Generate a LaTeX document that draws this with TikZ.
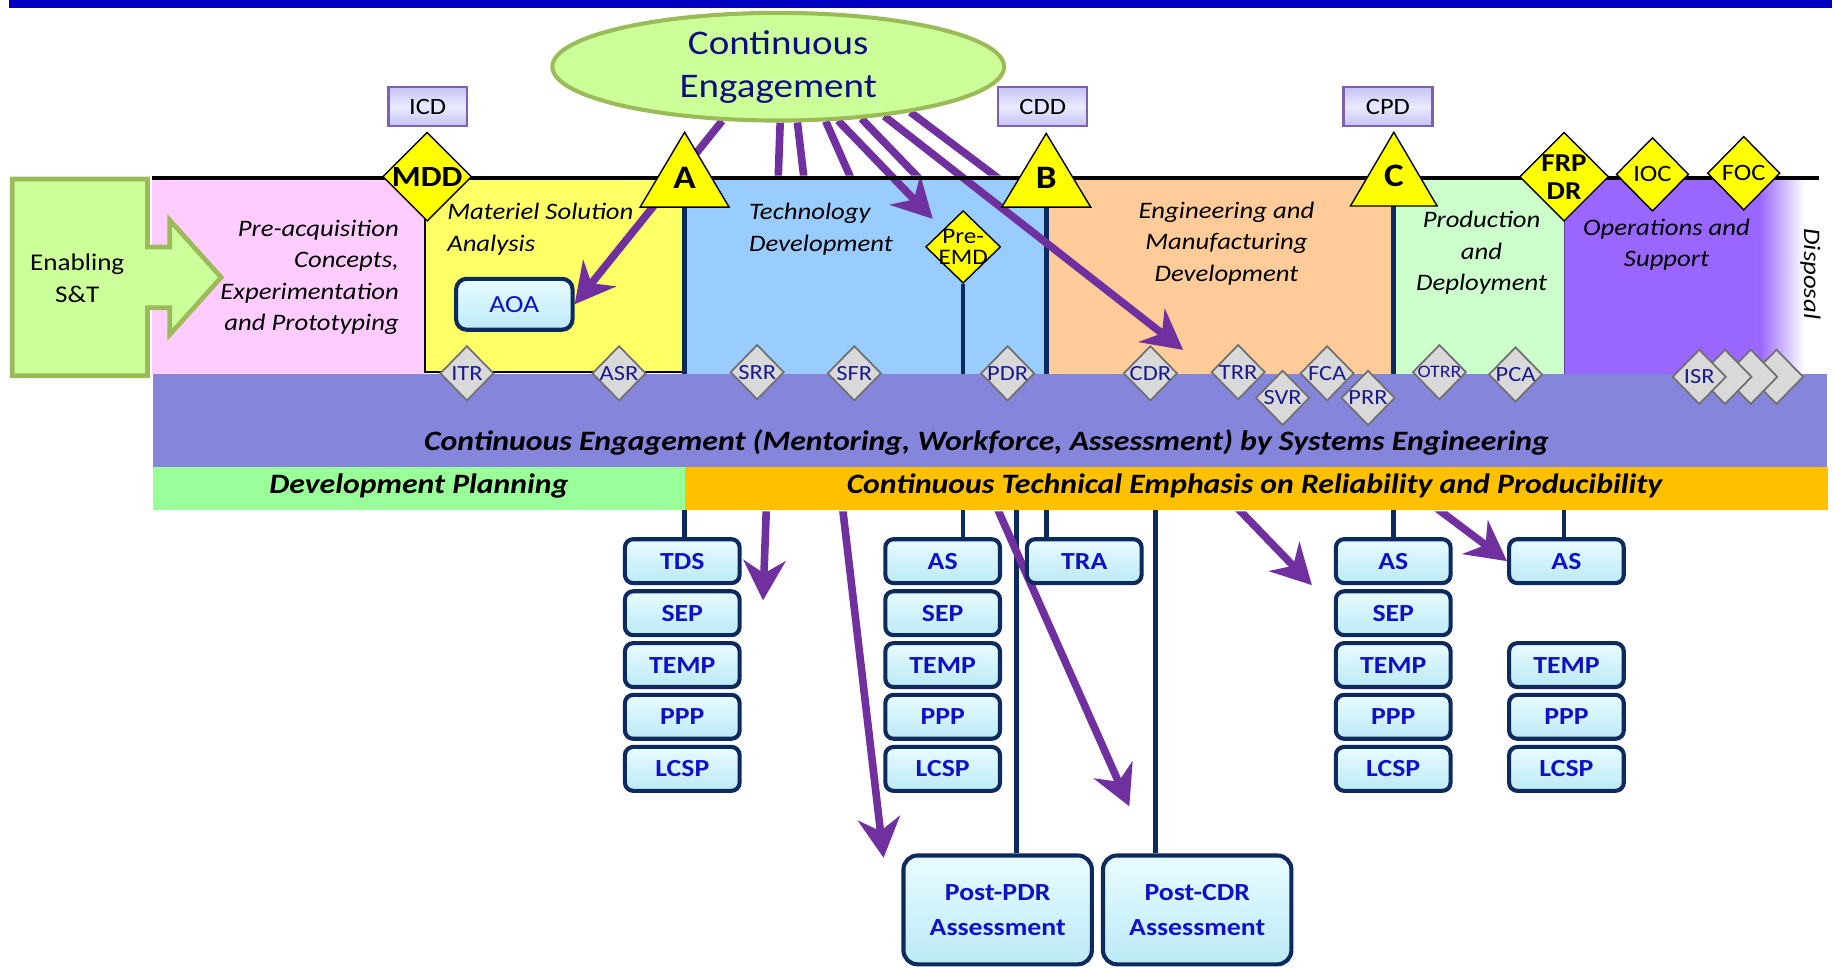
\documentclass[tikz,border=0pt]{standalone}
\usepackage{fontspec}
\setmainfont{Carlito}[FakeStretch=1.13]
\usetikzlibrary{arrows.meta,shapes.geometric,calc}
\newcommand{\mysize}[2]{\fontsize{#1}{#2}\selectfont}

\definecolor{topBar}{HTML}{0000C0}
\definecolor{ellFill}{HTML}{CCFF99}
\definecolor{ellLine}{HTML}{9BBB59}
\definecolor{ellText}{HTML}{0D0D80}
\definecolor{preAcq}{HTML}{FFCCFF}
\definecolor{msaY}{HTML}{FFFF66}
\definecolor{tdBlue}{HTML}{99CCFF}
\definecolor{emdOrange}{HTML}{FFCC99}
\definecolor{pdGreen}{HTML}{CCFFCC}
\definecolor{osPurple}{HTML}{9966FF}
\definecolor{seBand}{HTML}{8585DC}
\definecolor{dpGreen}{HTML}{99FF99}
\definecolor{emphGold}{HTML}{FFC000}
\definecolor{arrowP}{HTML}{7030A0}
\definecolor{navyLn}{HTML}{0C2A5E}
\definecolor{boxTop}{HTML}{E8FCFF}
\definecolor{boxBot}{HTML}{BCE9F6}
\definecolor{boxText}{HTML}{1010C8}
\definecolor{revFill}{HTML}{D9D9D9}
\definecolor{revLine}{HTML}{707070}
\definecolor{revText}{HTML}{1A1A90}
\definecolor{docTop}{HTML}{EAEAFF}
\definecolor{docBot}{HTML}{C4C4F4}
\definecolor{docLine}{HTML}{7F5FAF}
\definecolor{mileY}{HTML}{FFFF00}

\pgfdeclarelayer{fills}
\pgfdeclarelayer{links}
\pgfsetlayers{fills,links,main}

\begin{document}
\begin{tikzpicture}[x=1pt, y=-1pt,
  phase/.style={font=\itshape\mysize{20.2}{27}, inner sep=0pt, align=center},
  bandtext/.style={font=\bfseries\itshape\mysize{24}{28}, inner sep=0pt},
  lowbox/.style={rounded corners=7pt, draw=navyLn, line width=3.5pt, top color=boxTop, bottom color=boxBot, minimum width=98pt, minimum height=37.5pt, inner sep=0pt, font=\bfseries\mysize{21}{24}, text=boxText},
  bigbox/.style={lowbox, rounded corners=12pt, minimum width=161pt, minimum height=93pt, align=center, font=\bfseries\mysize{21}{30}},
  docbox/.style={draw=docLine, line width=2pt, top color=docBot, bottom color=docBot, middle color=docTop, minimum height=33pt, inner sep=0pt, font=\mysize{20}{22}},
  mile/.style={diamond, draw=black, line width=1.2pt, fill=mileY, inner sep=0pt},
  miletri/.style={draw=black, line width=1.2pt, fill=mileY},
  review/.style={diamond, draw=revLine, line width=1.5pt, fill=revFill, inner sep=0pt, minimum width=46pt, minimum height=47pt,
    label={[font=\mysize{18.5}{20}, text=revText, inner sep=0pt]center:#1}},
  navyline/.style={draw=navyLn, line width=4pt},
  engage/.style={draw=arrowP, line width=6.5pt, -{Stealth[length=34pt, width=36pt, inset=11pt]}},
]
\useasboundingbox (0,0) rectangle (1568,827);

% ---------- background fills ----------
\begin{pgfonlayer}{fills}
  \fill[topBar] (8,0) rectangle (1565,7);
  \fill[preAcq] (130,152) rectangle (363,320);
  \fill[tdBlue] (585,152) rectangle (895,320);
  \fill[emdOrange] (895,152) rectangle (1191,320);
  \fill[pdGreen] (1191,152) rectangle (1337,320);
  \fill[osPurple] (1337,152) rectangle (1504,320);
  \shade[left color=osPurple, right color=white] (1503.5,152) rectangle (1542,320);
  \filldraw[fill=msaY, draw=black, line width=2pt] (363,152) rectangle (585,318);
  \draw[line width=1.2pt, draw=osPurple!60!black] (1337,152) -- (1337,320);
  \fill[seBand] (131,320) rectangle (1561,399);
  \fill[dpGreen] (131,399) rectangle (585,436);
  \fill[emphGold] (585,399) rectangle (1562,436);
\end{pgfonlayer}

\coordinate (bandTop) at (0,320);
\coordinate (bandBot) at (0,436);

% ---------- phase titles ----------
\node[phase, align=right, anchor=east] (tPre) at (341,237) {Pre-acquisition\\Concepts,\\Experimentation\\and Prototyping};
\node[phase, align=left, anchor=west] (tMSA) at (382,196) {Materiel Solution\\Analysis};
\node[phase, align=left, anchor=west] (tTD) at (640,196) {Technology\\Development};
\node[phase] (tEMD) at (1048,208) {Engineering and\\Manufacturing\\Development};
\node[phase] (tPD) at (1266,216) {Production\\and\\Deployment};
\node[phase] (tOS) at (1424,209) {Operations and\\Support};
\node[phase, rotate=-90] (tDisp) at (1547,234) {Disposal};

% ---------- horizontal bands ----------
\node[bandtext, anchor=base] (tSE) at (843,385) {Continuous Engagement (Mentoring, Workforce, Assessment) by Systems Engineering};
\node[bandtext, anchor=base] (tDP) at (358,421.5) {Development Planning};
\node[bandtext, anchor=base] (tEmph) at (1072,421.5) {Continuous Technical Emphasis on Reliability and Producibility};

% ---------- document stacks ----------
\foreach \nm/\lbl/\yy in {tds/TDS/479.5, sepA/SEP/524, tempA/TEMP/568.3, pppA/PPP/612.5, lcspA/LCSP/657}
  \node[lowbox] (\nm) at (583,\yy) {\lbl};
\foreach \nm/\lbl/\yy in {asB/AS/479.5, sepB/SEP/524, tempB/TEMP/568.3, pppB/PPP/612.5, lcspB/LCSP/657}
  \node[lowbox] (\nm) at (805.5,\yy) {\lbl};
\node[lowbox] (tra) at (926.5,479.5) {TRA};
\foreach \nm/\lbl/\yy in {asC/AS/479.5, sepC/SEP/524, tempC/TEMP/568.3, pppC/PPP/612.5, lcspC/LCSP/657}
  \node[lowbox] (\nm) at (1190.5,\yy) {\lbl};
\foreach \nm/\lbl/\yy in {asD/AS/479.5, tempD/TEMP/568.3, pppD/PPP/612.5, lcspD/LCSP/657}
  \node[lowbox] (\nm) at (1338.5,\yy) {\lbl};
\node[bigbox] (ppdr) at (852.5,777.5) {Post-PDR\\Assessment};
\node[bigbox] (pcdr) at (1023,777.5) {Post-CDR\\Assessment};
\node[lowbox, rounded corners=9pt, minimum width=99.5pt, minimum height=43.5pt, font=\mysize{21}{24}] (aoa) at (439.5,260) {AOA};

% ---------- enabling S&T block arrow ----------
\filldraw[fill=ellFill, draw=ellLine, line width=4pt] (10.5,153) -- (126,153) -- (126,211) -- (145,211) -- (145,188) -- (189,237) -- (145,286) -- (145,263) -- (126,263) -- (126,321) -- (10.5,321) -- cycle;
\node[font=\mysize{20.5}{27.5}, align=center, inner sep=0pt] (tEnable) at (66,238) {Enabling\\S\&T};

% ---------- milestone line ----------
\draw[line width=4pt] (130,152) -- (1554,152);

\coordinate (mA) at (585,113);
\coordinate (mB) at (894,114);
\coordinate (mC) at (1191,113);
\filldraw[miletri] (mA) -- ++(38,64) -- ++(-76,0) -- cycle;
\filldraw[miletri] (mB) -- ++(38,63) -- ++(-76,0) -- cycle;
\filldraw[miletri] (mC) -- ++(37,63) -- ++(-74,0) -- cycle;
\node[font=\bfseries\mysize{28}{30}, inner sep=0pt] (lA) at (585,152) {A};
\node[font=\bfseries\mysize{28}{30}, inner sep=0pt] (lB) at (894,152) {B};
\node[font=\bfseries\mysize{28}{30}, inner sep=0pt] (lC) at (1191,150) {C};

\node[mile, minimum width=76pt, minimum height=76pt, label={[font=\bfseries\mysize{25}{26}]center:MDD}] (mdd) at (365,151) {};
\node[mile, minimum width=76pt, minimum height=76pt, label={[font=\bfseries\mysize{22}{24}, align=center]center:FRP\\DR}] (frp) at (1336.5,151) {};
\node[mile, minimum width=62pt, minimum height=63pt, label={[font=\mysize{20}{22}]center:IOC}] (ioc) at (1412,149) {};
\node[mile, minimum width=62pt, minimum height=63pt, label={[font=\mysize{20}{22}]center:FOC}] (foc) at (1490,148) {};
\node[mile, minimum width=64pt, minimum height=62pt, label={[font=\mysize{19}{18}, align=center]center:Pre-\\EMD}] (pemd) at (823,211) {};

\node[docbox, minimum width=67pt] (icd) at (365.5,91) {ICD};
\node[docbox, minimum width=76pt] (cdd) at (891,91) {CDD};
\node[docbox, minimum width=76pt] (cpd) at (1186,91) {CPD};

% ---------- technical reviews ----------
\node[review=ITR] (itr) at (399,319) {};
\node[review=ASR] (asr) at (529,319) {};
\node[review=SRR] (srr) at (647,318) {};
\node[review=SFR] (sfr) at (730,319) {};
\node[review=PDR] (pdr) at (861,319) {};
\node[review=CDR] (cdr) at (983,319) {};
\node[review=TRR] (trr) at (1058,318) {};
\node[review=FCA] (fca) at (1134,319) {};
\node[review=SVR] (svr) at (1096,340) {};
\node[review=PRR] (prr) at (1169,340) {};
\node[review={\mysize{15}{16}OTRR}] (otrr) at (1230,318) {};
\node[review=PCA] (pca) at (1295,320) {};
\node[review=] (isrD) at (1518,322) {};
\node[review=] (isrC) at (1496,322) {};
\node[review=] (isrB) at (1474,322) {};
\node[review=ISR] (isr) at (1452,322) {};

% ---------- continuous engagement hub ----------
\node[ellipse, draw=ellLine, line width=3.5pt, fill=ellFill, minimum width=386pt, minimum height=92pt, inner sep=0pt, align=center, font=\mysize{29.5}{37}, text=ellText] (ce) at (665,57) {Continuous\\Engagement};

% ---------- connectors ----------
\coordinate (ppdrTap) at ($(ppdr.north)+(16,0)$);
\coordinate (pcdrTap) at ($(pcdr.north)+(-35.5,0)$);
\coordinate (tdsTip) at (652,513);
\coordinate (ppdrTip) at (755,733);
\coordinate (pcdrTip) at (965,689);
\coordinate (asCTip) at (1121,500);
\coordinate (pemdTip) at (797,187);
\coordinate (cdrTip) at (1011,299);

\begin{pgfonlayer}{links}
  % milestone drop lines
  \draw[navyline] ($(mA)+(0,64)$) -- (mA |- bandTop);
  \draw[navyline] ($(mB)+(0,63)$) -- (mB |- bandTop);
  \draw[navyline] ($(mC)+(0,63)$) -- (mC |- bandTop);
  \draw[navyline] (pemd.south) -- (pemd.south |- bandTop);
  \draw[navyline] (mA |- bandBot) -- (mA |- tds.north);
  \draw[navyline] (pemd.south |- bandBot) -- (pemd.south |- asB.north);
  \draw[navyline] (ppdrTap |- bandBot) -- (ppdrTap);
  \draw[navyline] (mB |- bandBot) -- (mB |- tra.north);
  \draw[navyline] (pcdrTap |- bandBot) -- (pcdrTap);
  \draw[navyline] (mC |- bandBot) -- (mC |- asC.north);
  \draw[navyline] (frp.south |- bandBot) -- (frp.south |- asD.north);
  % engagement arrows running behind the phase chart
  \begin{scope}
    \clip (0,0) rectangle (1568,150) (0,437) rectangle (1568,827);
    \draw[engage] (ce.272.4) -- (tdsTip);
    \draw[engage] (ce.289.6) -- (ppdrTip);
    \draw[engage] (ce.311.8) -- (pcdrTip);
    \draw[engage] (ce.328.6) -- (asCTip);
    \draw[engage] (ce.341) -- (asD.west);
  \end{scope}
  % engagement arrows shown across the chart
  \draw[engage] (ce.224.1) -- (aoa.east);
  \draw[engage] (ce.318.9) -- (pemdTip);
  \draw[engage] (ce.335.3) -- (cdrTip);
\end{pgfonlayer}
\end{tikzpicture}
\end{document}
